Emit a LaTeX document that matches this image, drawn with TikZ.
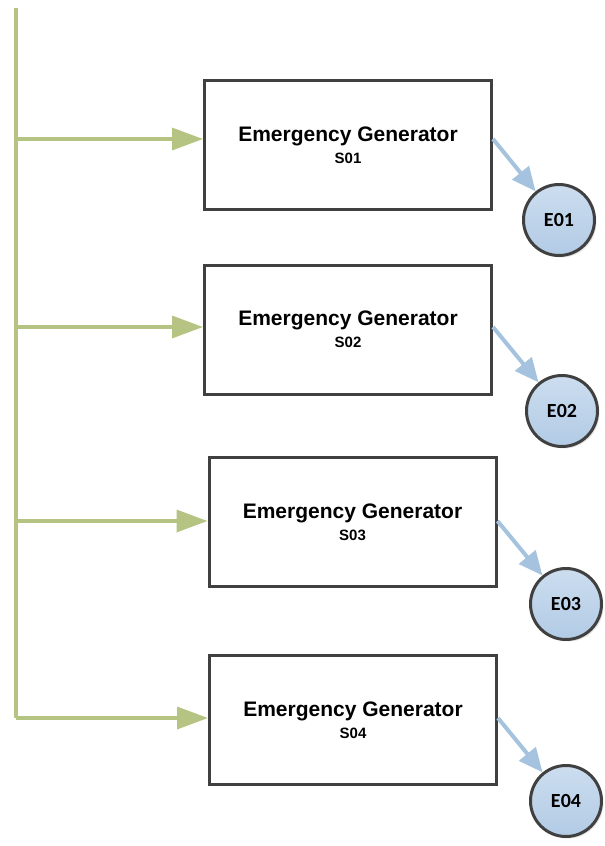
\documentclass[tikz,border=0pt]{standalone}
\usepackage{fontspec}
\setmainfont{Liberation Sans}
\newfontfamily\calfont{Carlito}
\usetikzlibrary{arrows.meta,shadows}
\definecolor{trunkgreen}{RGB}{181,196,131}
\definecolor{linkblue}{RGB}{165,195,222}
\definecolor{circtop}{RGB}{204,221,239}
\definecolor{circbot}{RGB}{178,203,229}
\definecolor{edge}{RGB}{64,64,64}
\tikzset{
  genbox/.style={draw=edge, line width=3pt, fill=white, minimum width=287pt, minimum height=129pt,
    align=center, inner sep=0pt, font=\bfseries\fontsize{21}{24}\selectfont},
  endpt/.style={circle, draw=edge, line width=3pt, minimum size=71pt, inner sep=0pt,
    top color=circtop, bottom color=circbot,
    drop shadow={shadow xshift=2pt, shadow yshift=-2pt, fill=black!25, opacity=0.4},
    font=\calfont\bfseries\fontsize{20}{20}\selectfont},
  greenline/.style={draw=trunkgreen, line width=3.5pt},
  greenarrow/.style={draw=trunkgreen, line width=3.5pt, -{Triangle[length=31pt,width=22pt]}, fill=trunkgreen},
  bluearrow/.style={draw=linkblue, line width=4pt, -{Triangle[length=24pt,width=21pt]}, fill=linkblue},
}
\begin{document}
\begin{tikzpicture}[x=1pt,y=-1pt]
\useasboundingbox (0,0) rectangle (605,846);
% generator boxes
\node[genbox] (b1) at (348,145) {Emergency Generator\\[-2pt]{\fontsize{15}{15}\selectfont S01}};
\node[genbox] (b2) at (348,329.5) {Emergency Generator\\[-2pt]{\fontsize{15}{15}\selectfont S02}};
\node[genbox] (b3) at (352.5,522) {Emergency Generator\\[-2pt]{\fontsize{15}{15}\selectfont S03}};
\node[genbox] (b4) at (353,720) {Emergency Generator\\[-2pt]{\fontsize{15}{15}\selectfont S04}};
% end circles
\node[endpt] (e1) at (559,220) {E01};
\node[endpt] (e2) at (562,411) {E02};
\node[endpt] (e3) at (566,604) {E03};
\node[endpt] (e4) at (566,801) {E04};
% trunk
\coordinate (top) at (16,8);
\coordinate (t1) at (16,139);
\coordinate (t2) at (16,327);
\coordinate (t3) at (16,521);
\coordinate (t4) at (16,718);
\draw[greenline, line cap=butt] (top) -- (t4);
\draw[greenarrow] (t1) -- (t1 -| b1.west);
\draw[greenarrow] (t2) -- (t2 -| b2.west);
\draw[greenarrow] (t3) -- (t3 -| b3.west);
\draw[greenarrow] (t4) -- (t4 -| b4.west);
% blue links
\draw[bluearrow] (b1.east |- t1) -- (e1);
\draw[bluearrow] (b2.east |- t2) -- (e2);
\draw[bluearrow] (b3.east |- t3) -- (e3);
\draw[bluearrow] (b4.east |- t4) -- (e4);
\end{tikzpicture}
\end{document}
